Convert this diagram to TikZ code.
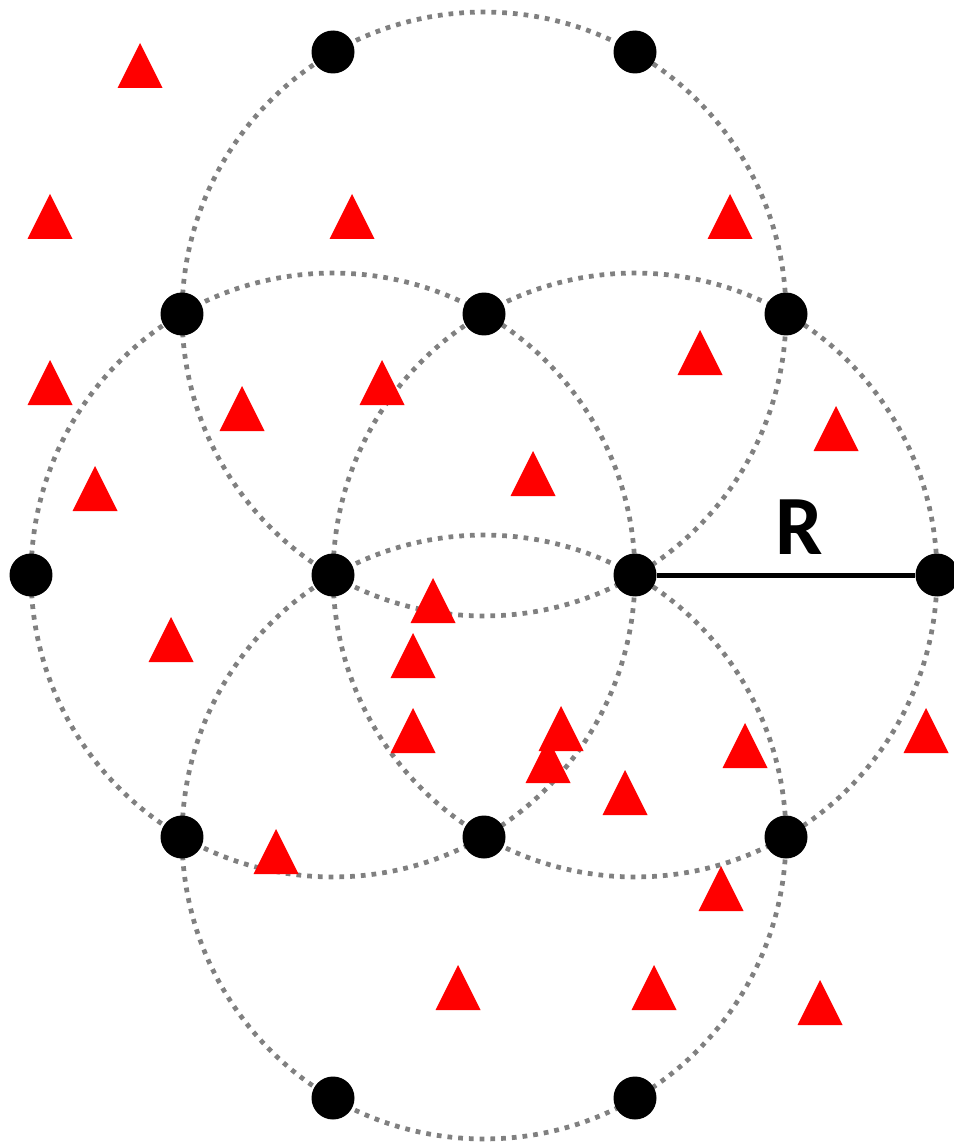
\documentclass[tikz,border=0pt]{standalone}
\usepackage{fontspec}
\newfontfamily\labelfont{Carlito}
\usetikzlibrary{backgrounds}

\begin{document}
\begin{tikzpicture}[
    x=0.02cm, y=-0.02cm,
    beacon/.style={circle, fill=black, inner sep=0pt, minimum size=0.86cm},
    coverage/.style={draw=gray, line width=0.095cm, dash pattern=on 0.095cm off 0.12cm},
    radius line/.style={draw=black, line width=0.1cm},
    target/.pic={\fill[red] (-22.5,0) -- (22.5,0) -- (0,-45) -- cycle;}
]
\useasboundingbox (0,0) rectangle (953,1145);

% Anchor nodes (hexagonal lattice)
\node (a1) [beacon] at (333,52) {};
\node (a2) [beacon] at (635,52) {};
\node (b1) [beacon] at (182,314) {};
\node (b2) [beacon] at (484,314) {};
\node (b3) [beacon] at (786,314) {};
\node (c1) [beacon] at (31,575) {};
\node (c2) [beacon] at (333,575) {};
\node (c3) [beacon] at (635,575) {};
\node (c4) [beacon] at (937,575) {};
\node (d1) [beacon] at (182,837) {};
\node (d2) [beacon] at (484,837) {};
\node (d3) [beacon] at (786,837) {};
\node (e1) [beacon] at (333,1098) {};
\node (e2) [beacon] at (635,1098) {};

% Coverage circles
\begin{scope}[on background layer]
\draw [coverage] (b2) circle [radius=6.04cm];
\draw [coverage] (c2) circle [radius=6.04cm];
\draw [coverage] (c3) circle [radius=6.04cm];
\draw [coverage] (d2) circle [radius=6.04cm];
\end{scope}

% Radius
\draw [radius line] (c3) -- node[pos=0.55, above=0.36cm, inner sep=0pt, font=\labelfont\bfseries\fontsize{48}{50}\selectfont] (rlabel) {R} (c4);

% Targets
\pic at (140,88) {target};
\pic at (50,239) {target};
\pic at (352,239) {target};
\pic at (730,239) {target};
\pic at (700,375) {target};
\pic at (50,405) {target};
\pic at (382,405) {target};
\pic at (242,431) {target};
\pic at (836,451) {target};
\pic at (533,496) {target};
\pic at (95,511) {target};
\pic at (433,623) {target};
\pic at (171,662) {target};
\pic at (413,678) {target};
\pic at (413,753) {target};
\pic at (561,751) {target};
\pic at (548,783) {target};
\pic at (745,768) {target};
\pic at (926,753) {target};
\pic at (625,815) {target};
\pic at (276,874) {target};
\pic at (721,911) {target};
\pic at (458,1010) {target};
\pic at (654,1010) {target};
\pic at (820,1025) {target};

\end{tikzpicture}
\end{document}
